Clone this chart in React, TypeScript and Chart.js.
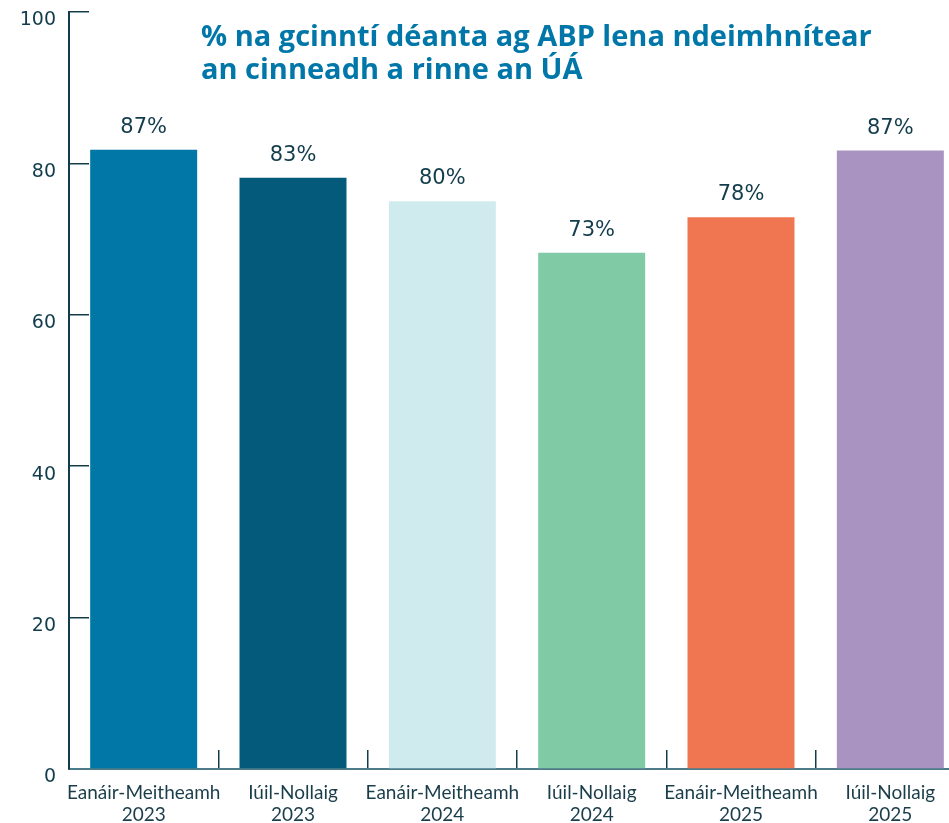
import React, { useEffect, useRef } from 'react';
import { Chart, registerables } from 'chart.js';

Chart.register(...registerables);

const periods = ['Eanáir-Meitheamh', 'Iúil-Nollaig', 'Eanáir-Meitheamh', 'Iúil-Nollaig', 'Eanáir-Meitheamh', 'Iúil-Nollaig'];
const years = ['2023', '2023', '2024', '2024', '2025', '2025'];
const barValues = [81.8, 78.1, 75.0, 68.2, 72.9, 81.7];
const valueLabels = ['87%', '83%', '80%', '73%', '78%', '87%'];
const barColors = ['#0077a6', '#045a7b', '#d0ebee', '#80cba5', '#ef7651', '#a994c1'];
const yTicks = [0, 20, 40, 60, 80, 100];
const titleLines = ['% na gcinntí déanta ag ABP lena ndeimhnítear', 'an cinneadh a rinne an ÚÁ'];

const DARK = '#123c4b';

const overlayPlugin = {
  id: 'overlay',
  afterDatasetsDraw(chart: any) {
    const ctx = chart.ctx;
    const meta = chart.getDatasetMeta(0);
    ctx.save();
    ctx.font = '21px "DejaVu Sans"';
    ctx.fillStyle = DARK;
    ctx.textAlign = 'center';
    ctx.textBaseline = 'alphabetic';
    meta.data.forEach((el: any, i: number) => {
      ctx.fillText(valueLabels[i], el.x, el.y - 17);
    });
    ctx.font = 'bold 29px "Open Sans"';
    ctx.fillStyle = '#0077a8';
    ctx.textAlign = 'left';
    titleLines.forEach((t, i) => {
      ctx.fillText(t, 201, 46 + i * 33);
    });
    ctx.restore();
  },
};

export default function App() {
  const ref = useRef<HTMLCanvasElement | null>(null);

  useEffect(() => {
    if (!ref.current) return;
    const chart = new Chart(ref.current, {
      type: 'bar',
      data: {
        labels: periods.map((p, i) => [p, years[i]]),
        datasets: [
          {
            data: barValues,
            backgroundColor: barColors,
            borderWidth: 0,
            categoryPercentage: 1,
            barPercentage: 0.7165,
          },
        ],
      },
      options: {
        animation: false,
        responsive: false,
        layout: { padding: { top: 12, right: 0, left: 0, bottom: 0 } },
        plugins: {
          legend: { display: false },
          tooltip: { enabled: false },
          title: { display: false },
        },
        scales: {
          x: {
            grid: {
              display: true,
              drawOnChartArea: false,
              drawTicks: true,
              tickLength: -19,
              offset: true,
              color: DARK,
              lineWidth: 1.5,
            },
            border: { display: true, color: '#4d7b8a', width: 2 },
            ticks: {
              font: { family: 'Lato', size: 19, lineHeight: 1.2 },
              color: '#1a3d4a',
              padding: 31,
              maxRotation: 0,
              autoSkip: false,
            },
            afterFit(scale: any) {
              scale.height = 54;
              scale.paddingLeft = 0;
              scale.paddingRight = 0;
            },
          },
          y: {
            min: 0,
            max: 100,
            afterBuildTicks(scale: any) {
              scale.ticks = yTicks.map((v) => ({ value: v }));
            },
            grid: {
              display: true,
              drawOnChartArea: false,
              drawTicks: true,
              tickLength: -20,
              color: DARK,
              lineWidth: 1.5,
            },
            border: { display: true, color: DARK, width: 2 },
            ticks: {
              font: { family: '"DejaVu Sans"', size: 19 },
              color: DARK,
              padding: 33,
              labelOffset: 8.5,
              callback: (v: any) => String(v),
            },
            afterFit(scale: any) {
              scale.width = 69;
              scale.paddingTop = 0;
              scale.paddingBottom = 0;
            },
          },
        },
      },
      plugins: [overlayPlugin],
    });
    return () => chart.destroy();
  }, []);

  return (
    <div style={{ position: 'absolute', left: 0, top: 0, width: 949, height: 823, overflow: 'hidden', background: '#fff' }}>
      <canvas ref={ref} width={965} height={823} style={{ width: 965, height: 823, display: 'block' }} />
    </div>
  );
}
